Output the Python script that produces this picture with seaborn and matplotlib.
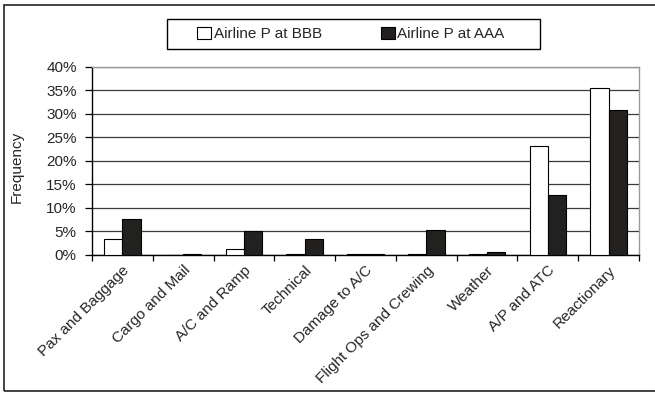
import matplotlib
matplotlib.use("Agg")
import matplotlib.pyplot as plt
import matplotlib.patches as mpatches
import matplotlib.ticker as mticker
import numpy as np
import pandas as pd
import seaborn as sns

categories = ["Pax and Baggage", "Cargo and Mail", "A/C and Ramp", "Technical",
              "Damage to A/C", "Flight Ops and Crewing", "Weather", "A/P and ATC",
              "Reactionary"]
series_names = ["Airline P at BBB", "Airline P at AAA"]
bbb_values = [3.3, 0.0, 1.3, 0.3, 0.2, 0.2, 0.3, 23.2, 35.5]
aaa_values = [7.7, 0.2, 5.0, 3.4, 0.2, 5.3, 0.6, 12.8, 30.8]
y_ticks = [0, 5, 10, 15, 20, 25, 30, 35, 40]

df = pd.DataFrame({
    "category": categories * 2,
    "series": [series_names[0]] * len(categories) + [series_names[1]] * len(categories),
    "value": bbb_values + aaa_values,
})

sns.set_theme(style="white")
plt.rcParams["font.family"] = ["Liberation Sans", "DejaVu Sans"]

W, H = 655, 399
fig = plt.figure(figsize=(W / 100, H / 100), dpi=100)
ax = fig.add_axes([92 / W, 1 - 255 / H, (639 - 92) / W, (255 - 66.5) / H])

sns.barplot(data=df, x="category", y="value", hue="series", order=categories,
            hue_order=series_names, palette=["white", "#231f20"], width=0.6,
            edgecolor="black", linewidth=0.8, ax=ax, legend=False, zorder=3)

ax.set_ylim(0, 40)
ax.set_xlim(-0.5, len(categories) - 0.5)
ax.set_yticks(y_ticks)
ax.yaxis.set_major_formatter(mticker.FuncFormatter(lambda v, p: f"{v:.0f}%"))
ax.grid(axis="y", color="#3a3a3a", linewidth=0.9, zorder=0)
ax.set_axisbelow(True)

# category separators as ticks below the axis
ax.set_xticks(np.arange(len(categories)))
ax.set_xticklabels(categories, rotation=45, ha="right", rotation_mode="anchor", fontsize=11)
ax.set_xticks(np.arange(len(categories) + 1) - 0.5, minor=True)
ax.tick_params(axis="x", which="major", length=0, pad=6)
ax.tick_params(axis="x", which="minor", length=4, width=0.9, color="black", direction="out", bottom=True)
ax.tick_params(axis="y", length=5, width=0.9, color="black", direction="out", left=True, labelsize=11, pad=6)

ax.set_xlabel("")
ax.set_ylabel("Frequency", fontsize=11)
ax.yaxis.set_label_coords((24 - 92) / (639 - 92), 0.47)

for side in ["left", "bottom"]:
    ax.spines[side].set_color("black")
    ax.spines[side].set_linewidth(1.0)
for side in ["top", "right"]:
    ax.spines[side].set_color("#9a9a9a")
    ax.spines[side].set_linewidth(1.0)

handles = [mpatches.Patch(facecolor="white", edgecolor="black", linewidth=0.8),
           mpatches.Patch(facecolor="#231f20", edgecolor="black", linewidth=0.8)]
leg = fig.legend(handles, series_names, ncol=2, loc="center",
                 bbox_to_anchor=(351 / W, 1 - 34 / H), frameon=False,
                 fontsize=11, handlelength=0.9, handleheight=0.9,
                 handletextpad=0.15, columnspacing=3.9, borderpad=0.3)

# legend box
fig.patches.append(mpatches.Rectangle((167 / W, 1 - 49 / H), (540 - 167) / W, 30 / H,
                                      transform=fig.transFigure, fill=False,
                                      edgecolor="black", linewidth=1.0))

# outer chart frame
fig.patches.append(mpatches.Rectangle((4 / W, 1 - 391 / H), 1.0, (391 - 5) / H,
                                      transform=fig.transFigure, fill=False,
                                      edgecolor="#222222", linewidth=1.2, clip_on=False))

fig.savefig("out.png", dpi=100)
